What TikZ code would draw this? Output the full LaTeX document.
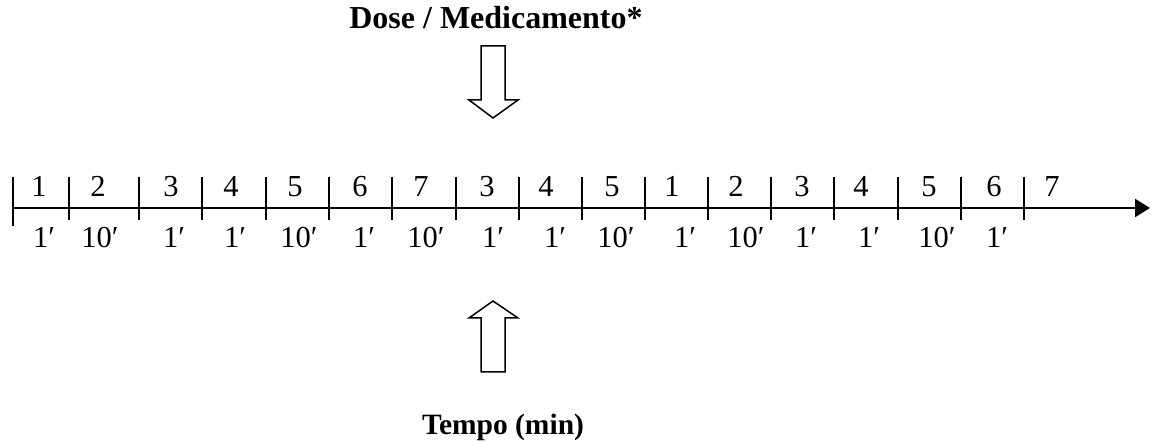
\documentclass[tikz,border=0pt]{standalone}
\usepackage{fontspec}
\setmainfont{Liberation Serif}
\usetikzlibrary{arrows.meta}
\begin{document}
\begin{tikzpicture}[x=1pt,y=-1pt,
  axisline/.style={line width=2.3pt,-{Triangle[length=15pt,width=18pt]}},
  tickmark/.style={line width=2pt},
  hollowarrow/.style={draw,line width=1.5pt,fill=white,line join=miter},
  seglabel/.style={font=\fontsize{30.5}{36}\selectfont,anchor=base,inner sep=0pt},
  caption/.style={font=\fontsize{32}{36}\selectfont\bfseries,anchor=base,inner sep=0pt}]
\useasboundingbox (0,0) rectangle (1151,443);

% time axis
\coordinate (axstart) at (13,208);
\coordinate (axend) at (1150,208);
\draw[axisline] (axstart) -- (axend);

% tick marks between the stages
\draw[tickmark] (13,177) -- (13,226);
\foreach \x in {69,139,202,266,329,392,456,519,582,645,708,771,834,898,961,1024}
  \draw[tickmark] (\x,177) -- (\x,220);

% stage numbers above the axis
\foreach \x/\t [count=\i] in {39/1,98/2,171/3,231/4,295/5,360/6,421/7,487/3,546/4,612/5,672/1,736/2,802/3,861/4,929/5,994/6,1052/7}
  \node[seglabel] (stage\i) at (\x,197) {\t};

% durations below the axis
\foreach \x/\t [count=\i] in {44/1′,100/10′,174/1′,235/1′,299/10′,364/1′,426/10′,493/1′,555/1′,616/10′,685/1′,746/10′,806/1′,869/1′,937/10′,997/1′}
  \node[seglabel] (dur\i) at (\x,248) {\t};

% dose marker
\node[caption] (dose) at (496,29) {Dose / Medicamento*};
\draw[hollowarrow] (481,46) -- (505,46) -- (505,100) -- (518,100) -- (493,118)
  -- (469,100) -- (481,100) -- cycle;

% time marker
\draw[hollowarrow] (493,301) -- (518,318) -- (505,318) -- (505,372) -- (481,372)
  -- (481,318) -- (469,318) -- cycle;
\node[caption,font=\fontsize{29.5}{36}\selectfont\bfseries] (tempo) at (503,434) {Tempo (min)};
\end{tikzpicture}
\end{document}
